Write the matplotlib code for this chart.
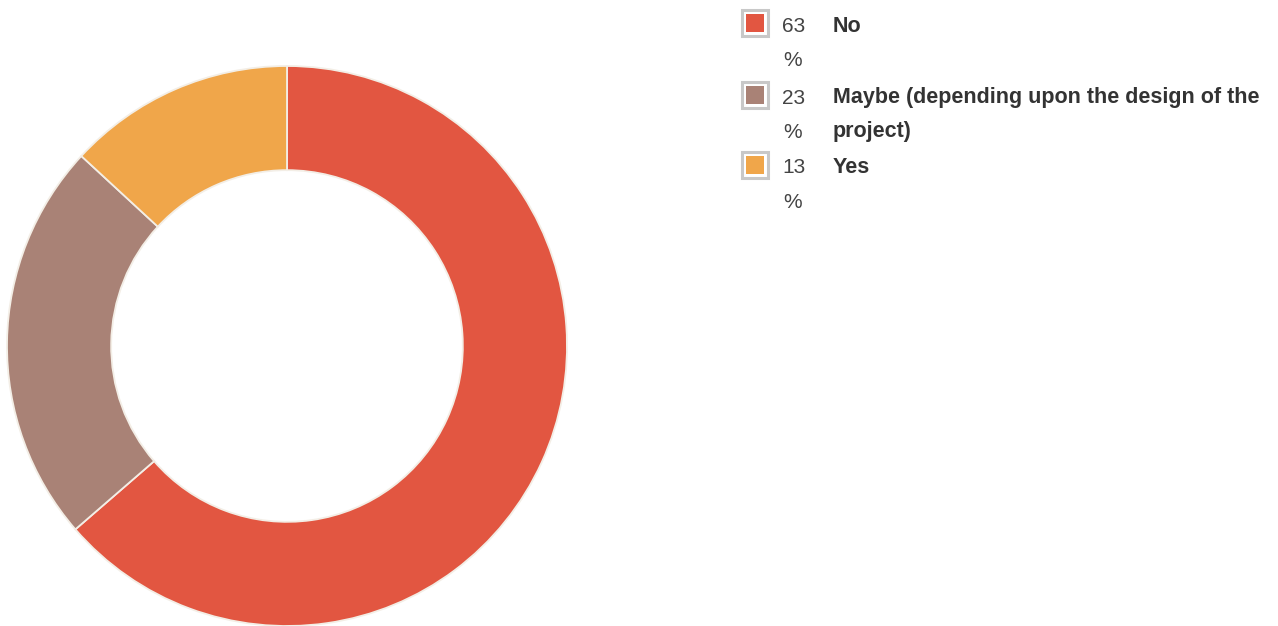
import matplotlib.pyplot as plt
from matplotlib.patches import Rectangle

labels = ['No', 'Maybe (depending upon the design of the\nproject)', 'Yes']
percents = [63, 23, 13]
colors = ['#e25641', '#a98276', '#f0a64a']

W, H = 1278, 626
plt.rcParams['font.family'] = ['Liberation Sans', 'DejaVu Sans']

fig = plt.figure(figsize=(W / 100, H / 100), dpi=100)

def px(x, y):
    # pixel position (from top-left) -> figure fraction
    return x / W, 1 - y / H

# donut
ax = fig.add_axes([7 / W, 0 / H, 560 / W, 560 / H])
ax.pie(percents, colors=colors, startangle=90, counterclock=False,
       radius=1.0, normalize=True,
       wedgeprops=dict(width=0.372, edgecolor='#f3eee6', linewidth=1.3))
ax.set_xlim(-1, 1)
ax.set_ylim(-1, 1)
ax.set_aspect('equal')
ax.axis('off')

# legend, one row per answer
row_y = [24, 96, 166]
line_h = 33
for lab, pct, col, y in zip(labels, percents, colors, row_y):
    x0, y0 = px(742, y + 12)
    fig.patches.append(Rectangle((x0, y0), 26 / W, 26 / H, transform=fig.transFigure,
                                 facecolor='white', edgecolor='#c8c8c8', linewidth=2.2))
    x1, y1 = px(746, y + 8)
    fig.patches.append(Rectangle((x1, y1), 18 / W, 18 / H, transform=fig.transFigure,
                                 facecolor=col, edgecolor='none'))
    fig.text(*px(782, y + 2), str(pct), fontsize=15, color='#444444', va='center', ha='left')
    fig.text(*px(783, y + line_h + 3), '%', fontsize=15, color='#444444', va='center', ha='left')
    for i, part in enumerate(lab.split('\n')):
        fig.text(*px(833, y + 2 + i * line_h), part, fontsize=15.5, fontweight='bold',
                 color='#333333', va='center', ha='left')

fig.savefig('out.png', dpi=100)
